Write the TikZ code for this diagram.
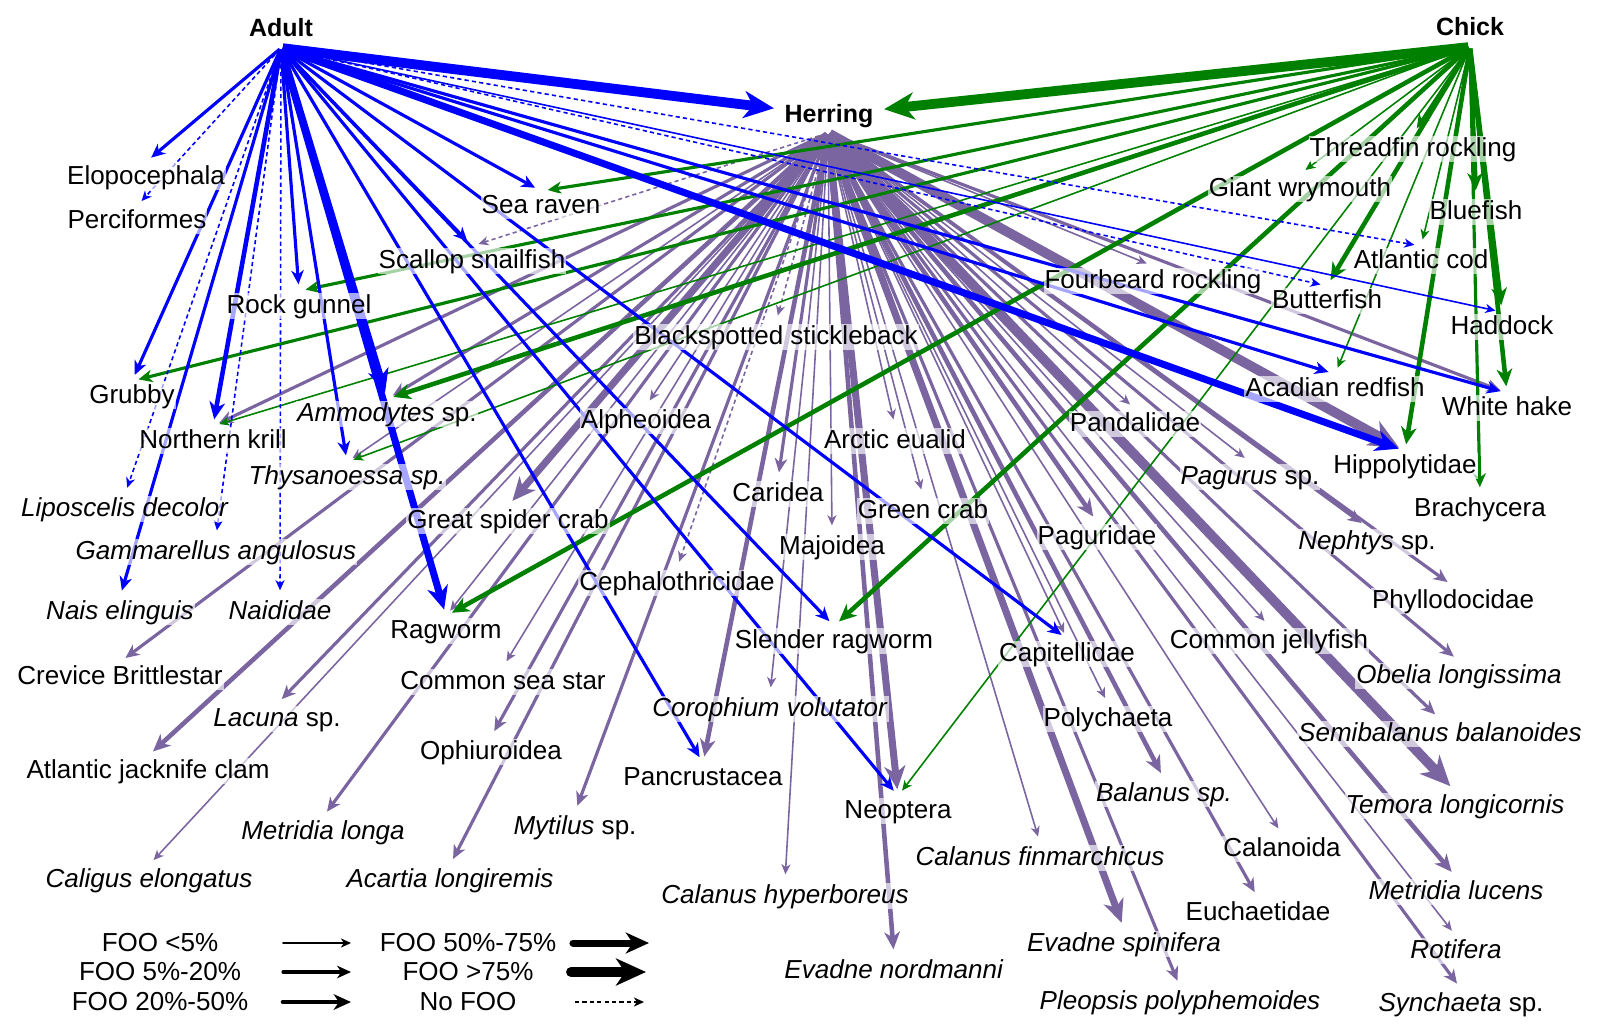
\documentclass[tikz,border=0pt]{standalone}
\usepackage{fontspec}
\setmainfont{Liberation Sans}
\usetikzlibrary{arrows.meta,backgrounds}
\definecolor{adultblue}{RGB}{0,0,255}
\definecolor{chickgreen}{RGB}{0,128,0}
\definecolor{herringpurple}{RGB}{123,101,161}

\begin{document}
\begin{tikzpicture}[x=0.01cm,y=-0.01cm,
  >={Stealth[length=1.8pt 2.4,width'=0pt 0.9,inset'=0pt 0.3]},
  vtx/.style={circle,inner sep=0pt,minimum size=0.12cm},
  src/.style={circle,inner sep=0pt,minimum size=0.02cm},
  lbl/.style={fill=white,fill opacity=0.65,text opacity=1,inner sep=0.01cm,
    text height=0.19cm,text depth=0.05cm,font=\fontsize{7.4}{9}\selectfont,
    label distance=-0.05cm},
  title/.style={inner sep=0.01cm,text height=0.19cm,text depth=0.05cm,
    font=\fontsize{7.1}{9}\selectfont\bfseries,label distance=0.035cm},
  leg/.style={inner sep=0.01cm,font=\fontsize{7.4}{9}\selectfont},
  wa/.style={line width=0.45pt},
  wb/.style={line width=0.9pt},
  wc/.style={line width=1.3pt},
  wd/.style={line width=2pt},
  we/.style={line width=2.8pt},
  nofoo/.style={line width=0.45pt,dash pattern=on 1.2pt off 0.9pt},
  ad/.style={adultblue,->},
  ck/.style={chickgreen,->},
  hr/.style={herringpurple,->}]
\useasboundingbox (0,0) rectangle (1600,1030);
%%Predators
\node[src,label={[title]above:Adult}] (adult) at (281,48) {};
\node[src,label={[title]above:Chick}] (chick) at (1470,47) {};
\node[title,inner xsep=0.1cm] (herring) at (829,115) {Herring};
\node[src] (hfan) at (828,133) {};
%%Prey, left part
\node[vtx,label={[lbl]below:Elopocephala}] (elopo) at (146,162) {};
\node[vtx,label={[lbl]below:Perciformes}] (perci) at (137,206) {};
\node[vtx,label={[lbl]below:Sea raven}] (sraven) at (541,191) {};
\node[vtx,label={[lbl]below:Scallop snailfish}] (scallop) at (472,246) {};
\node[vtx,label={[lbl]below:Rock gunnel}] (rgunnel) at (299,291) {};
\node[vtx,label={[lbl]below:Blackspotted stickleback}] (stickle) at (776,322) {};
\node[vtx,label={[lbl]below:Grubby}] (grubby) at (132,381) {};
\node[vtx,label={[lbl]below:Northern krill}] (krill) at (213,426) {};
\node[vtx,label={[lbl]below:\textit{Ammodytes} sp.}] (ammo) at (387,399) {};
\node[vtx,label={[lbl]below:\textit{Thysanoessa sp.}}] (thysa) at (347,462) {};
\node[vtx,label={[lbl]below:\textit{Liposcelis decolor}}] (lipo) at (125,494) {};
\node[vtx,label={[lbl]below:\textit{Gammarellus angulosus}}] (gamma) at (216,537) {};
\node[vtx,label={[lbl]below:\textit{Nais elinguis}}] (nais) at (120,597) {};
\node[vtx,label={[lbl]below:\textit{Naididae}}] (naidi) at (280,597) {};
\node[vtx,label={[lbl]below:Crevice Brittlestar}] (crevice) at (120,662) {};
\node[vtx,label={[lbl]below:Great spider crab}] (spider) at (508,506) {};
\node[vtx,label={[lbl]below:Ragworm}] (ragworm) at (446,616) {};
\node[vtx,label={[lbl]below:Common sea star}] (seastar) at (503,667) {};
\node[vtx,label={[lbl]below:Alpheoidea}] (alph) at (646,406) {};
\node[vtx,label={[lbl]below:Arctic eualid}] (eualid) at (895,426) {};
\node[vtx,label={[lbl]below:Caridea}] (caridea) at (778,479) {};
\node[vtx,label={[lbl]below:Green crab}] (gcrab) at (923,496) {};
\node[vtx,label={[lbl]below:Majoidea}] (majo) at (832,532) {};
\node[vtx,label={[lbl]below:Cephalothricidae}] (cepha) at (677,568) {};
\node[vtx,label={[lbl]below:Slender ragworm}] (slender) at (834,626) {};
\node[vtx,label={[lbl]below:\textit{Corophium volutator}}] (coroph) at (770,694) {};
\node[vtx,label={[lbl]below:\textit{Lacuna} sp.}] (lacuna) at (277,704) {};
\node[vtx,label={[lbl]below:Atlantic jacknife clam}] (jack) at (148,756) {};
\node[vtx,label={[lbl]below:Ophiuroidea}] (ophiu) at (491,737) {};
\node[vtx,label={[lbl]below:Pancrustacea}] (pancr) at (703,763) {};
\node[vtx,label={[lbl]below:\textit{Metridia longa}}] (mlonga) at (323,817) {};
\node[vtx,label={[lbl]below:\textit{Mytilus} sp.}] (mytil) at (575,812) {};
\node[vtx,label={[lbl]below:Neoptera}] (neopt) at (898,796) {};
\node[vtx,label={[lbl]below:\textit{Caligus elongatus}}] (caligus) at (149,865) {};
\node[vtx,label={[lbl]below:\textit{Acartia longiremis}}] (acartia) at (450,865) {};
\node[vtx,label={[lbl]below:\textit{Calanus hyperboreus}}] (chyper) at (785,881) {};
\node[vtx,label={[lbl]below:\textit{Evadne nordmanni}}] (enord) at (894,956) {};
%%Prey, right part
\node[vtx,label={[lbl]below:Threadfin rockling}] (threadf) at (1413,134) {};
\node[vtx,label={[lbl]below:Giant wrymouth}] (giant) at (1300,174) {};
\node[vtx,label={[lbl]below:Bluefish}] (bluef) at (1476,197) {};
\node[vtx,label={[lbl]below:Atlantic cod}] (cod) at (1421,246) {};
\node[vtx,label={[lbl]below:Fourbeard rockling}] (fourb) at (1153,266) {};
\node[vtx,label={[lbl]below:Butterfish}] (butter) at (1327,286) {};
\node[vtx,label={[lbl]below:Haddock}] (haddock) at (1502,312) {};
\node[vtx,label={[lbl]below:Acadian redfish}] (acadian) at (1335,374) {};
\node[vtx,label={[lbl]below:White hake}] (whake) at (1507,393) {};
\node[vtx,label={[lbl]below:Pandalidae}] (pandal) at (1135,409) {};
\node[vtx,label={[lbl]below:Hippolytidae}] (hippo) at (1405,451) {};
\node[vtx,label={[lbl]below:\textit{Pagurus} sp.}] (pagurus) at (1250,462) {};
\node[vtx,label={[lbl]below:Brachycera}] (brachy) at (1480,494) {};
\node[vtx,label={[lbl]below:Paguridae}] (pagurid) at (1097,522) {};
\node[vtx,label={[lbl]below:\textit{Nephtys} sp.}] (nephtys) at (1367,527) {};
\node[vtx,label={[lbl]below:Phyllodocidae}] (phyllo) at (1453,586) {};
\node[vtx,label={[lbl]below:Common jellyfish}] (jelly) at (1269,626) {};
\node[vtx,label={[lbl]below:Capitellidae}] (capit) at (1067,639) {};
\node[vtx,label={[lbl]below:\textit{Obelia longissima}}] (obelia) at (1459,661) {};
\node[vtx,label={[lbl]below:Polychaeta}] (polych) at (1108,704) {};
\node[vtx,label={[lbl]below:\textit{Semibalanus balanoides}}] (semib) at (1440,719) {};
\node[vtx,label={[lbl]below:\textit{Balanus sp.}}] (balanus) at (1164,779) {};
\node[vtx,label={[lbl]below:\textit{Temora longicornis}}] (temora) at (1455,791) {};
\node[vtx,label={[lbl]below:Calanoida}] (calanoida) at (1282,834) {};
\node[vtx,label={[lbl]below:\textit{Calanus finmarchicus}}] (cfin) at (1040,843) {};
\node[vtx,label={[lbl]below:\textit{Metridia lucens}}] (mluc) at (1456,877) {};
\node[vtx,label={[lbl]below:Euchaetidae}] (euchae) at (1258,898) {};
\node[vtx,label={[lbl]below:\textit{Evadne spinifera}}] (espin) at (1124,929) {};
\node[vtx,label={[lbl]below:\textit{Rotifera}}] (rotif) at (1456,936) {};
\node[vtx,label={[lbl]below:\textit{Pleopsis polyphemoides}}] (pleop) at (1180,987) {};
\node[vtx,label={[lbl]below:\textit{Synchaeta} sp.}] (synch) at (1461,989) {};
\begin{scope}[on background layer]
%%Herring diet
\draw[hr,nofoo] (hfan) -- (scallop);
\draw[hr,nofoo] (hfan) -- (stickle);
\draw[hr,nofoo] (hfan) -- (cepha);
\draw[hr,wa] (hfan) -- (thysa);
\draw[hr,wa] (hfan) -- (ragworm);
\draw[hr,wa] (hfan) -- (seastar);
\draw[hr,wa] (hfan) -- (alph);
\draw[hr,wa] (hfan) -- (eualid);
\draw[hr,wa] (hfan) -- (gcrab);
\draw[hr,wa] (hfan) -- (majo);
\draw[hr,wa] (hfan) -- (capit);
\draw[hr,wa] (hfan) -- (coroph);
\draw[hr,wa] (hfan) -- (caligus);
\draw[hr,wa] (hfan) -- (chyper);
\draw[hr,wa] (hfan) -- (cfin);
\draw[hr,wa] (hfan) -- (polych);
\draw[hr,wa] (hfan) -- (calanoida);
\draw[hr,wa] (hfan) -- (jelly);
\draw[hr,wa] (hfan) -- (pagurus);
\draw[hr,wa] (hfan) -- (pandal);
\draw[hr,wa] (hfan) -- (rotif);
\draw[hr,wa] (hfan) -- (fourb);
\draw[hr,wb] (hfan) -- (krill);
\draw[hr,wb] (hfan) -- (ammo);
\draw[hr,wb] (hfan) -- (crevice);
\draw[hr,wb] (hfan) -- (caridea);
\draw[hr,wb] (hfan) -- (lacuna);
\draw[hr,wb] (hfan) -- (ophiu);
\draw[hr,wb] (hfan) -- (mlonga);
\draw[hr,wb] (hfan) -- (mytil);
\draw[hr,wb] (hfan) -- (acartia);
\draw[hr,wb] (hfan) -- (pleop);
\draw[hr,wb] (hfan) -- (euchae);
\draw[hr,wb] (hfan) -- (semib);
\draw[hr,wb] (hfan) -- (synch);
\draw[hr,wb] (hfan) -- (obelia);
\draw[hr,wb] (hfan) -- (phyllo);
\draw[hr,wb] (hfan) -- (nephtys);
\draw[hr,wb] (hfan) -- (whake);
\draw[hr,wc] (hfan) -- (jack);
\draw[hr,wc] (hfan) -- (pancr);
\draw[hr,wc] (hfan) -- (enord);
\draw[hr,wc] (hfan) -- (pagurid);
\draw[hr,wc] (hfan) -- (balanus);
\draw[hr,wc] (hfan) -- (mluc);
\draw[hr,wd] (hfan) -- (spider);
\draw[hr,wd] (hfan) -- (neopt);
\draw[hr,wd] (hfan) -- (espin);
\draw[hr,we] (hfan) -- (temora);
\draw[hr,we] (hfan) -- (hippo);
%%Chick diet
\draw[ck,we] (chick) -- (herring);
\draw[ck,wb] (chick) -- (sraven);
\draw[ck,wb] (chick) -- (rgunnel);
\draw[ck,wb] (chick) -- (grubby);
\draw[ck,wb] (chick) -- (threadf);
\draw[ck,wb] (chick) -- (brachy);
\draw[ck,wc] (chick) -- (ammo);
\draw[ck,wc] (chick) -- (ragworm);
\draw[ck,wc] (chick) -- (slender);
\draw[ck,wc] (chick) -- (bluef);
\draw[ck,wc] (chick) -- (butter);
\draw[ck,wc] (chick) -- (haddock);
\draw[ck,wc] (chick) -- (whake);
\draw[ck,wc] (chick) -- (hippo);
\draw[ck,wa] (chick) -- (krill);
\draw[ck,wa] (chick) -- (thysa);
\draw[ck,wa] (chick) -- (neopt);
\draw[ck,wa] (chick) -- (giant);
\draw[ck,wa] (chick) -- (cod);
\draw[ck,wa] (chick) -- (acadian);
%%Adult diet
\draw[ad,we] (adult) -- (herring);
\draw[ad,wb] (adult) -- (elopo);
\draw[ad,wb] (adult) -- (sraven);
\draw[ad,wb] (adult) -- (scallop);
\draw[ad,wb] (adult) -- (rgunnel);
\draw[ad,wb] (adult) -- (grubby);
\draw[ad,wb] (adult) -- (thysa);
\draw[ad,wb] (adult) -- (nais);
\draw[ad,wb] (adult) -- (acadian);
\draw[ad,wb] (adult) -- (whake);
\draw[ad,wb] (adult) -- (slender);
\draw[ad,wb] (adult) -- (pancr);
\draw[ad,wb] (adult) -- (neopt);
\draw[ad,wb] (adult) -- (capit);
\draw[ad,wc] (adult) -- (krill);
\draw[ad,wd] (adult) -- (ammo);
\draw[ad,wd] (adult) -- (ragworm);
\draw[ad,wd] (adult) -- (hippo);
\draw[ad,wa] (adult) -- (haddock);
\draw[ad,nofoo] (adult) -- (perci);
\draw[ad,nofoo] (adult) -- (lipo);
\draw[ad,nofoo] (adult) -- (gamma);
\draw[ad,nofoo] (adult) -- (naidi);
\draw[ad,nofoo] (adult) -- (cod);
\draw[ad,nofoo] (adult) -- (butter);
\end{scope}
%%Legend
\node[leg] (foo1) at (160,943) {FOO <5\%};
\node[leg] (foo2) at (160,972) {FOO 5\%-20\%};
\node[leg] (foo3) at (160,1002) {FOO 20\%-50\%};
\node[leg] (foo4) at (468,943) {FOO 50\%-75\%};
\node[leg] (foo5) at (468,972) {FOO >75\%};
\node[leg] (foo6) at (468,1002) {No FOO};
\coordinate (foo1s) at (283,943); \coordinate (foo1e) at (351,943);
\coordinate (foo2s) at (283,972); \coordinate (foo2e) at (351,972);
\coordinate (foo3s) at (283,1002); \coordinate (foo3e) at (351,1002);
\coordinate (foo4s) at (573,943); \coordinate (foo4e) at (649,943);
\coordinate (foo5s) at (571,972); \coordinate (foo5e) at (646,972);
\coordinate (foo6s) at (575,1002); \coordinate (foo6e) at (644,1002);
\draw[->,wa,line cap=round] (foo1s) -- (foo1e);
\draw[->,wb,line cap=round] (foo2s) -- (foo2e);
\draw[->,wc,line cap=round] (foo3s) -- (foo3e);
\draw[->,wd,line cap=round] (foo4s) -- (foo4e);
\draw[->,we,line cap=round] (foo5s) -- (foo5e);
\draw[->,nofoo] (foo6s) -- (foo6e);
\end{tikzpicture}
\end{document}
